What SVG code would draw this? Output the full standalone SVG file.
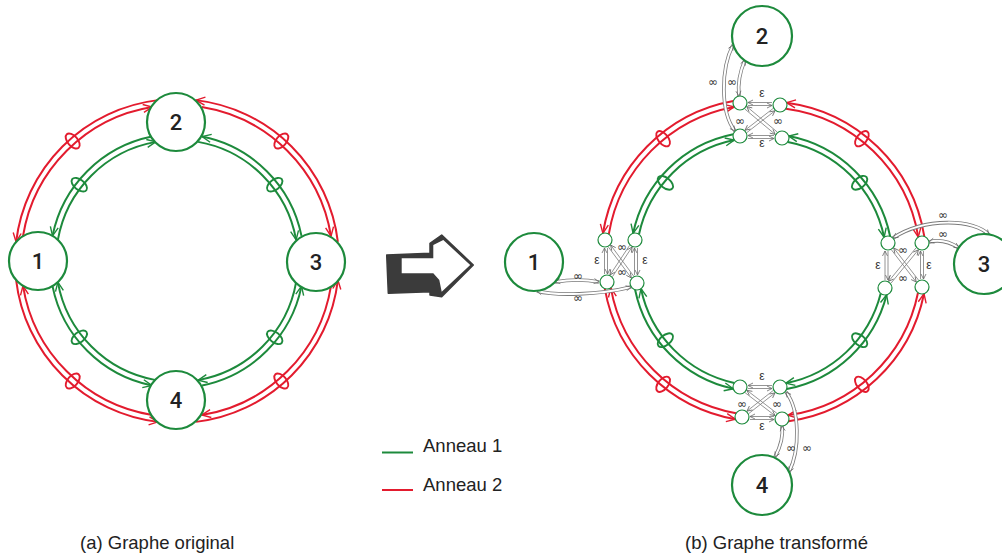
<svg xmlns="http://www.w3.org/2000/svg" width="1002" height="555" viewBox="0 0 1002 555">
<defs>
<style>
.g{fill:none;stroke:#1d8a3c;stroke-width:2}
.r{fill:none;stroke:#e31b2e;stroke-width:2}
.ge{fill:none;stroke:#1d8a3c;stroke-width:1.9}
.re{fill:none;stroke:#e31b2e;stroke-width:1.9}
.node{fill:#fff;stroke:#1d8a3c;stroke-width:2.2}
.sn{fill:#fff;stroke:#1d8a3c;stroke-width:1.2}
.gl{fill:none;stroke:#7a7a7a;stroke-width:0.8}
.cas{fill:none;stroke:#7a7a7a;stroke-width:3.6}
.casw{fill:none;stroke:#fff;stroke-width:2}
.num{font-family:Roboto,"Liberation Sans",sans-serif;font-weight:500;font-size:22px;fill:#222;text-anchor:middle}
.lab{font-family:"Liberation Sans",sans-serif;font-size:12px;fill:#333;text-anchor:middle;opacity:0.99}
.inf{font-family:"DejaVu Sans",sans-serif;font-size:12px;fill:#333;text-anchor:middle;opacity:0.99}
.txt{font-family:"Liberation Sans",sans-serif;font-size:18.5px;fill:#222}
</style>
<marker id="ag" markerUnits="userSpaceOnUse" markerWidth="12" markerHeight="12" refX="9" refY="4.5" orient="auto" overflow="visible"><path d="M0,0.5 L9,4.5 L0,8.5" fill="none" stroke="#1d8a3c" stroke-width="1.4"/></marker>
<marker id="ar" markerUnits="userSpaceOnUse" markerWidth="12" markerHeight="12" refX="9" refY="4.5" orient="auto" overflow="visible"><path d="M0,0.5 L9,4.5 L0,8.5" fill="none" stroke="#e31b2e" stroke-width="1.4"/></marker>
<marker id="ak" markerUnits="userSpaceOnUse" markerWidth="7" markerHeight="7" refX="5" refY="2.5" orient="auto" overflow="visible"><path d="M0,0 L5,2.5 L0,5" fill="none" stroke="#666" stroke-width="0.8"/></marker>
<marker id="aks" markerUnits="userSpaceOnUse" markerWidth="7" markerHeight="7" refX="5" refY="2.5" orient="auto-start-reverse" overflow="visible"><path d="M0,0 L5,2.5 L0,5" fill="none" stroke="#666" stroke-width="0.8"/></marker>
</defs>
<rect width="1002" height="555" fill="#fff"/>

<g id="connectors">
<!-- (a) left graph: green ring -->
<path class="g" marker-end="url(#ag)" d="M57.86,239.86 A121,121 0 0 1 155.86,141.86"/>
<path class="g" marker-end="url(#ag)" d="M198.14,141.86 A121,121 0 0 1 296.14,239.86"/>
<path class="g" marker-end="url(#ag)" d="M296.14,282.14 A121,121 0 0 1 198.14,380.14"/>
<path class="g" marker-end="url(#ag)" d="M155.86,380.14 A121,121 0 0 1 57.86,282.14"/>
<path class="g" marker-end="url(#ag)" d="M151.90,136.51 A127,127 0 0 0 52.51,235.90"/>
<path class="g" marker-end="url(#ag)" d="M301.49,235.90 A127,127 0 0 0 202.10,136.51"/>
<path class="g" marker-end="url(#ag)" d="M202.10,385.49 A127,127 0 0 0 301.49,286.10"/>
<path class="g" marker-end="url(#ag)" d="M52.51,286.10 A127,127 0 0 0 151.90,385.49"/>
<!-- (a) red ring -->
<path class="r" marker-end="url(#ar)" d="M22.99,236.19 A156,156 0 0 1 152.19,106.99"/>
<path class="r" marker-end="url(#ar)" d="M201.81,106.99 A156,156 0 0 1 331.01,236.19"/>
<path class="r" marker-end="url(#ar)" d="M331.01,285.81 A156,156 0 0 1 201.81,415.01"/>
<path class="r" marker-end="url(#ar)" d="M152.19,415.01 A156,156 0 0 1 22.99,285.81"/>
<path class="r" marker-end="url(#ar)" d="M157.96,100.12 A162,162 0 0 0 16.12,241.96"/>
<path class="r" marker-end="url(#ar)" d="M337.88,241.96 A162,162 0 0 0 196.04,100.12"/>
<path class="r" marker-end="url(#ar)" d="M196.04,421.88 A162,162 0 0 0 337.88,280.04"/>
<path class="r" marker-end="url(#ar)" d="M16.12,280.04 A162,162 0 0 0 157.96,421.88"/>
<!-- (a) bundle ellipses -->
<ellipse class="ge" cx="79.3" cy="184.7" rx="9" ry="5" transform="rotate(38 79.3 184.7)"/>
<ellipse class="ge" cx="274.7" cy="184.7" rx="9" ry="5" transform="rotate(-38 274.7 184.7)"/>
<ellipse class="ge" cx="274.7" cy="337.3" rx="9" ry="5" transform="rotate(38 274.7 337.3)"/>
<ellipse class="ge" cx="79.3" cy="337.3" rx="9" ry="5" transform="rotate(-38 79.3 337.3)"/>
<ellipse class="re" cx="72.7" cy="141" rx="9" ry="5" transform="rotate(49 72.7 141)"/>
<ellipse class="re" cx="281.3" cy="141" rx="9" ry="5" transform="rotate(-49 281.3 141)"/>
<ellipse class="re" cx="281.3" cy="381" rx="9" ry="5" transform="rotate(49 281.3 381)"/>
<ellipse class="re" cx="72.7" cy="381" rx="9" ry="5" transform="rotate(-49 72.7 381)"/>

<!-- (b) red ring -->
<path class="r" marker-end="url(#ar)" d="M608.8,234.2 A155,155 0 0 1 734.2,106.9"/>
<path class="r" marker-end="url(#ar)" d="M785.9,108.7 A155,155 0 0 1 918.3,237.1"/>
<path class="r" marker-end="url(#ar)" d="M918.0,292.8 A155,155 0 0 1 787.9,415.3"/>
<path class="r" marker-end="url(#ar)" d="M736.1,413.2 A155,155 0 0 1 610.8,287.9"/>
<path class="r" marker-end="url(#ar)" d="M733.3,100.9 A161,161 0 0 0 602.9,233.4"/>
<path class="r" marker-end="url(#ar)" d="M924.3,236.4 A161,161 0 0 0 786.6,102.7"/>
<path class="r" marker-end="url(#ar)" d="M788.6,421.2 A161,161 0 0 0 924.0,293.7"/>
<path class="r" marker-end="url(#ar)" d="M604.8,288.6 A161,161 0 0 0 735.4,419.2"/>
<!-- (b) green ring -->
<path class="g" marker-end="url(#ag)" d="M639.0,234.3 A122,122 0 0 1 734.3,140.1"/>
<path class="g" marker-end="url(#ag)" d="M787.8,141.9 A122,122 0 0 1 884.1,237.2"/>
<path class="g" marker-end="url(#ag)" d="M880.7,293.5 A122,122 0 0 1 785.8,383.2"/>
<path class="g" marker-end="url(#ag)" d="M734.3,382.9 A122,122 0 0 1 641.0,288.7"/>
<path class="g" marker-end="url(#ag)" d="M733.3,134.2 A128,128 0 0 0 633.1,233.3"/>
<path class="g" marker-end="url(#ag)" d="M890.1,236.3 A128,128 0 0 0 788.7,136.0"/>
<path class="g" marker-end="url(#ag)" d="M786.7,389.1 A128,128 0 0 0 886.6,294.8"/>
<path class="g" marker-end="url(#ag)" d="M635.1,289.7 A128,128 0 0 0 733.3,388.8"/>
<!-- (b) bundle ellipses -->
<ellipse class="ge" cx="665.4" cy="182.8" rx="9" ry="5" transform="rotate(39 665.4 182.8)"/>
<ellipse class="ge" cx="859.6" cy="182.8" rx="9" ry="5" transform="rotate(-39 859.6 182.8)"/>
<ellipse class="ge" cx="859.6" cy="340.2" rx="9" ry="5" transform="rotate(39 859.6 340.2)"/>
<ellipse class="ge" cx="665.4" cy="340.2" rx="9" ry="5" transform="rotate(-39 665.4 340.2)"/>
<ellipse class="re" cx="663.1" cy="138.7" rx="9" ry="5" transform="rotate(51 663.1 138.7)"/>
<ellipse class="re" cx="861.9" cy="138.7" rx="9" ry="5" transform="rotate(-51 861.9 138.7)"/>
<ellipse class="re" cx="861.9" cy="384.3" rx="9" ry="5" transform="rotate(51 861.9 384.3)"/>
<ellipse class="re" cx="663.1" cy="384.3" rx="9" ry="5" transform="rotate(-51 663.1 384.3)"/>

<!-- (b) cluster inner connectors: top -->
<path class="gl" marker-end="url(#ak)" d="M772,102.5 L748,102.5"/>
<path class="gl" marker-end="url(#ak)" d="M748,105.5 L772,105.5"/>
<path class="gl" marker-end="url(#ak)" d="M774,135.5 L748,135.5"/>
<path class="gl" marker-end="url(#ak)" d="M748,138.5 L774,138.5"/>
<path class="gl" marker-end="url(#ak)" d="M744.8,109.0 L775.2,134.4"/>
<path class="gl" marker-end="url(#ak)" d="M777.2,132.0 L746.8,106.6"/>
<path class="gl" marker-end="url(#ak)" d="M773.2,108.4 L745.0,130.2"/>
<path class="gl" marker-end="url(#ak)" d="M746.8,132.6 L775.0,110.8"/>
<!-- left -->
<path class="gl" marker-end="url(#ak)" d="M604.5,274 L604.5,248"/>
<path class="gl" marker-end="url(#ak)" d="M607.5,248 L607.5,274"/>
<path class="gl" marker-end="url(#ak)" d="M634.5,275 L634.5,248"/>
<path class="gl" marker-end="url(#ak)" d="M637.5,248 L637.5,275"/>
<path class="gl" marker-end="url(#ak)" d="M608.3,246.9 L631.3,277.9"/>
<path class="gl" marker-end="url(#ak)" d="M633.7,276.1 L610.7,245.1"/>
<path class="gl" marker-end="url(#ak)" d="M629.6,245.4 L610.0,275.0"/>
<path class="gl" marker-end="url(#ak)" d="M612.5,276.6 L632.1,247.0"/>
<!-- right -->
<path class="gl" marker-end="url(#ak)" d="M885,280 L885,251"/>
<path class="gl" marker-end="url(#ak)" d="M888,251 L888,280"/>
<path class="gl" marker-end="url(#ak)" d="M920.5,279 L920.5,251"/>
<path class="gl" marker-end="url(#ak)" d="M923.5,251 L923.5,279"/>
<path class="gl" marker-end="url(#ak)" d="M891.4,249.8 L916.2,282.0"/>
<path class="gl" marker-end="url(#ak)" d="M918.6,280.2 L893.8,248.0"/>
<path class="gl" marker-end="url(#ak)" d="M916.0,247.9 L888.6,281.3"/>
<path class="gl" marker-end="url(#ak)" d="M891.0,283.2 L918.4,249.8"/>
<!-- bottom -->
<path class="gl" marker-end="url(#ak)" d="M772,385.5 L748,385.5"/>
<path class="gl" marker-end="url(#ak)" d="M748,388.5 L772,388.5"/>
<path class="gl" marker-end="url(#ak)" d="M774,416.5 L750,416.5"/>
<path class="gl" marker-end="url(#ak)" d="M750,419.5 L774,419.5"/>
<path class="gl" marker-end="url(#ak)" d="M745.1,392.7 L775.1,415.7"/>
<path class="gl" marker-end="url(#ak)" d="M776.9,413.3 L746.9,390.3"/>
<path class="gl" marker-end="url(#ak)" d="M773.2,390.5 L747.0,411.1"/>
<path class="gl" marker-end="url(#ak)" d="M748.8,413.5 L775.0,392.9"/>

<!-- (b) links from original nodes to their clusters -->
<path class="cas" d="M555,282 Q578,278 599,282"/>
<path class="casw" marker-start="url(#aks)" marker-end="url(#ak)" d="M555,282 Q578,278 599,282"/>
<path class="cas" d="M537,291 C555,296 600,295 631,287"/>
<path class="casw" marker-start="url(#aks)" marker-end="url(#ak)" d="M537,291 C555,296 600,295 631,287"/>
<path class="cas" d="M745,60 Q737,78 739,96"/>
<path class="casw" marker-start="url(#aks)" marker-end="url(#ak)" d="M745,60 Q737,78 739,96"/>
<path class="cas" d="M733,45 C721,68 720,112 735,131"/>
<path class="casw" marker-start="url(#aks)" marker-end="url(#ak)" d="M733,45 C721,68 720,112 735,131"/>
<path class="cas" d="M989,235 C975,219 925,217 893,238"/>
<path class="casw" marker-start="url(#aks)" marker-end="url(#ak)" d="M989,235 C975,219 925,217 893,238"/>
<path class="cas" d="M959,248 Q944,238 929,242"/>
<path class="casw" marker-start="url(#aks)" marker-end="url(#ak)" d="M959,248 Q944,238 929,242"/>
<path class="cas" d="M775,457 Q784,440 782,426"/>
<path class="casw" marker-start="url(#aks)" marker-end="url(#ak)" d="M775,457 Q784,440 782,426"/>
<path class="cas" d="M789,472 C800,450 800,410 786,392"/>
<path class="casw" marker-start="url(#aks)" marker-end="url(#ak)" d="M789,472 C800,450 800,410 786,392"/>

<!-- labels -->
<g class="lab">
<text x="762" y="97">ε</text>
<text x="762" y="146.5">ε</text>
<text x="597" y="264">ε</text>
<text x="645" y="264">ε</text>
<text x="878" y="269">ε</text>
<text x="929" y="269">ε</text>
<text x="762" y="380">ε</text>
<text x="762" y="430">ε</text>
</g>
<g class="inf">
<text x="740" y="125">∞</text>
<text x="778" y="125">∞</text>
<text x="622" y="251">∞</text>
<text x="622" y="276">∞</text>
<text x="903" y="254">∞</text>
<text x="903" y="282">∞</text>
<text x="742" y="408">∞</text>
<text x="777" y="408">∞</text>
<text x="578" y="280">∞</text>
<text x="578" y="302">∞</text>
<text x="713" y="86">∞</text>
<text x="732" y="86">∞</text>
<text x="943" y="219">∞</text>
<text x="943" y="238">∞</text>
<text x="791" y="452">∞</text>
<text x="807" y="452">∞</text>
</g>
</g>

<!-- (a) nodes -->
<g id="a-n1"><circle class="node" cx="38" cy="261" r="29"/><text class="num" x="38" y="269">1</text></g>
<g id="a-n2"><circle class="node" cx="176" cy="122" r="29"/><text class="num" x="176" y="130">2</text></g>
<g id="a-n3"><circle class="node" cx="316" cy="262" r="29"/><text class="num" x="316" y="270">3</text></g>
<g id="a-n4"><circle class="node" cx="176" cy="400" r="29"/><text class="num" x="176" y="408">4</text></g>

<!-- (b) original nodes -->
<g id="b-n1"><circle class="node" cx="534" cy="262" r="29"/><text class="num" x="534" y="270">1</text></g>
<g id="b-n2"><circle class="node" cx="762" cy="36" r="30"/><text class="num" x="762" y="44">2</text></g>
<g id="b-n3"><circle class="node" cx="984" cy="264" r="30"/><text class="num" x="984" y="272">3</text></g>
<g id="b-n4"><circle class="node" cx="762" cy="485" r="30"/><text class="num" x="762" y="493">4</text></g>

<!-- (b) cluster sub-nodes -->
<g id="b-2a"><circle class="sn" cx="740" cy="103" r="7"/></g>
<g id="b-2b"><circle class="sn" cx="780" cy="105" r="7"/></g>
<g id="b-2c"><circle class="sn" cx="740" cy="136" r="7"/></g>
<g id="b-2d"><circle class="sn" cx="782" cy="138" r="7"/></g>
<g id="b-1a"><circle class="sn" cx="605" cy="240" r="7"/></g>
<g id="b-1b"><circle class="sn" cx="635" cy="240" r="7"/></g>
<g id="b-1c"><circle class="sn" cx="607" cy="282" r="7"/></g>
<g id="b-1d"><circle class="sn" cx="637" cy="283" r="7"/></g>
<g id="b-3a"><circle class="sn" cx="888" cy="243" r="7"/></g>
<g id="b-3b"><circle class="sn" cx="922" cy="243" r="7"/></g>
<g id="b-3c"><circle class="sn" cx="885" cy="288" r="7"/></g>
<g id="b-3d"><circle class="sn" cx="922" cy="287" r="7"/></g>
<g id="b-4a"><circle class="sn" cx="740" cy="387" r="7"/></g>
<g id="b-4b"><circle class="sn" cx="780" cy="387" r="7"/></g>
<g id="b-4c"><circle class="sn" cx="742" cy="417" r="7"/></g>
<g id="b-4d"><circle class="sn" cx="782" cy="419" r="7"/></g>

<!-- big transform arrow -->
<g id="arrow">
<path d="M386.7,255 L430,253.3 L430,243.3 L441.7,235 L473.3,265 L441.7,296.7 L430,295 L430,291.7 L388.3,293.3 Z" fill="#3b3b3b" stroke="#3b3b3b" stroke-width="1.5" stroke-linejoin="round"/>
<path d="M401.7,258.3 L433.3,258.3 L433.3,245 L443.3,240 L470.2,265 L441.7,291.7 L439.3,280 L433.3,273.3 L401.7,273.3 Z" fill="#fff"/>
</g>

<!-- legend -->
<g id="legend">
<line x1="382" y1="452.5" x2="413" y2="452.5" stroke="#1d8a3c" stroke-width="2"/>
<text class="txt" x="423" y="452">Anneau 1</text>
<line x1="382" y1="490" x2="413" y2="490" stroke="#e31b2e" stroke-width="2"/>
<text class="txt" x="423" y="491">Anneau 2</text>
</g>

<text class="txt" x="80" y="549">(a) Graphe original</text>
<text class="txt" x="685" y="549">(b) Graphe transformé</text>
</svg>
